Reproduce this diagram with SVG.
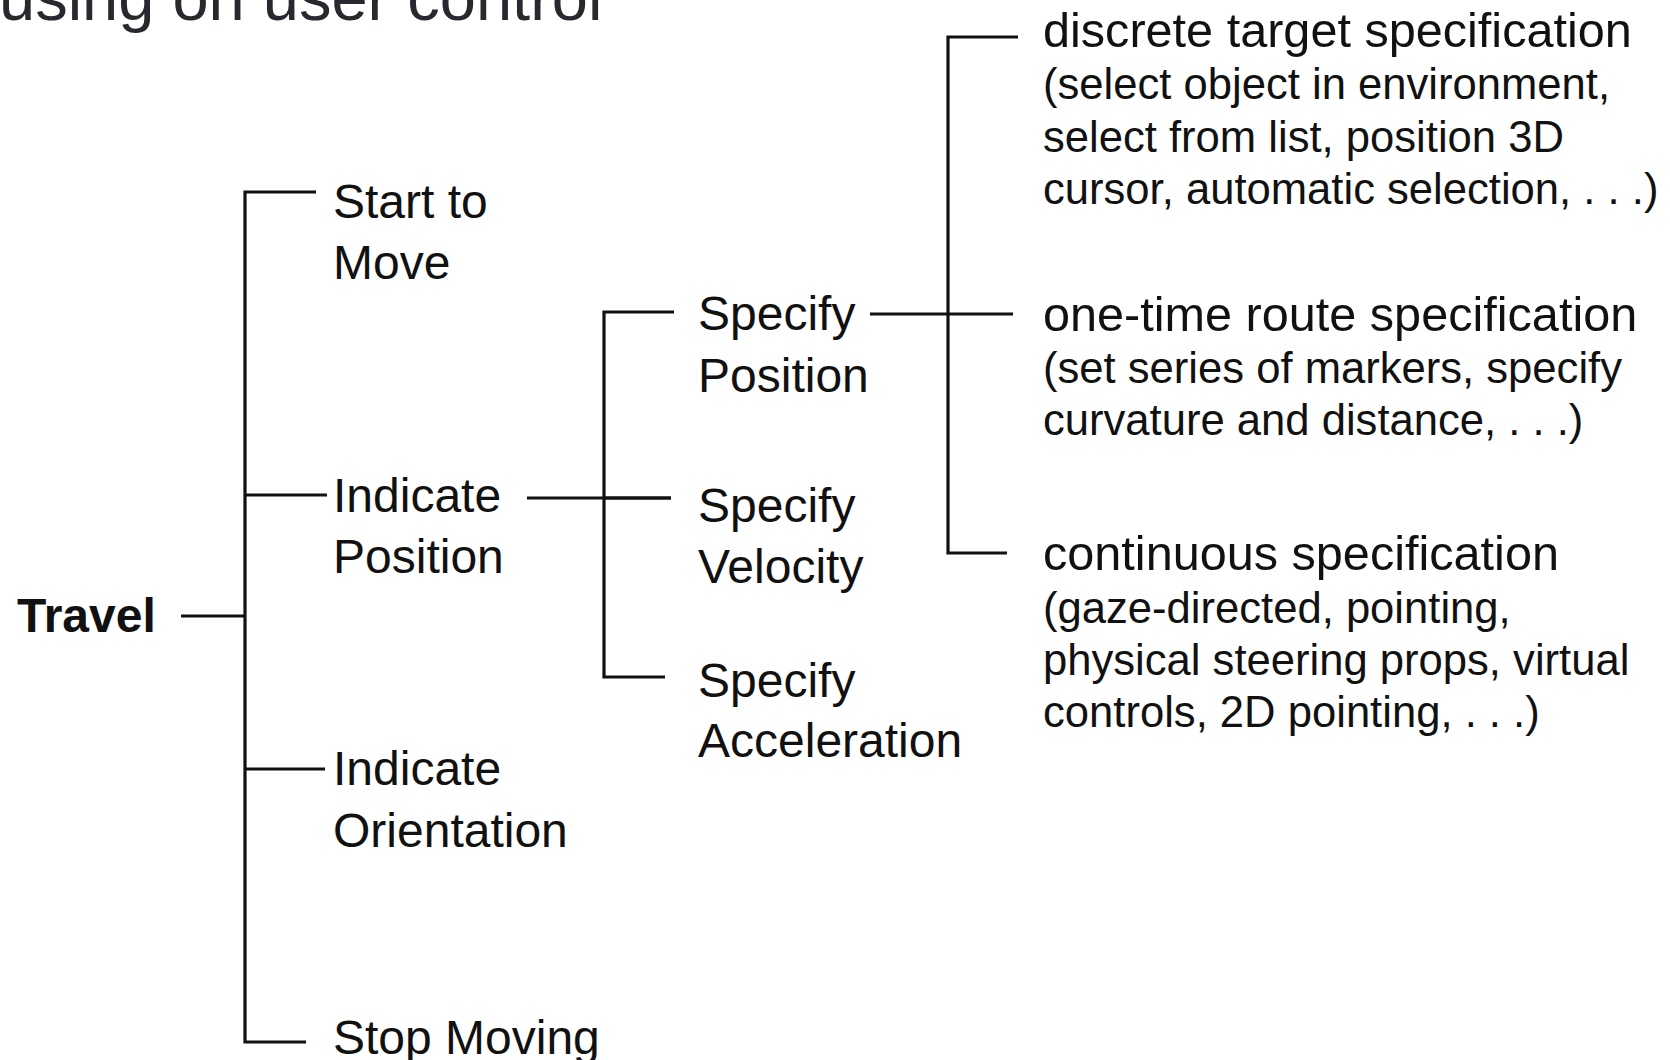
<svg xmlns="http://www.w3.org/2000/svg" width="1670" height="1060" viewBox="0 0 1670 1060">
<style>
  .n { font-family: "Liberation Sans", Arial, Helvetica, sans-serif; font-size: 48px; fill: #111; }
  .h { font-family: "Liberation Sans", Arial, Helvetica, sans-serif; font-size: 48.6px; fill: #111; }
  .b { font-weight: bold; }
  .s { font-family: "Liberation Sans", Arial, Helvetica, sans-serif; font-size: 43.6px; fill: #111; }
  .t { font-family: "Liberation Sans", Arial, Helvetica, sans-serif; font-size: 65px; fill: #28282f; }
  .c { stroke: #111; stroke-width: 3.2; fill: none; stroke-linecap: butt; stroke-linejoin: miter; }
</style>
<rect x="0" y="0" width="1670" height="1060" fill="#ffffff"/>
<text class="t" x="-1" y="20">using on user control</text>

<g id="connectors">
  <path class="c" d="M181 616 H245"/>
  <path class="c" d="M316 192 H245 V1042 H306"/>
  <path class="c" d="M245 495 H327"/>
  <path class="c" d="M245 769 H325"/>
  <path class="c" d="M527 498 H671"/>
  <path class="c" d="M674 312 H604 V677 H665"/>
  <path class="c" d="M604 498 H671"/>
  <path class="c" d="M870 314 H1013"/>
  <path class="c" d="M1018 37 H948 V553 H1007"/>
</g>

<g id="travel"><text class="n b" x="17" y="632">Travel</text></g>
<g id="start-to-move">
  <text class="n" x="333" y="218">Start to</text>
  <text class="n" x="333" y="279">Move</text>
</g>
<g id="indicate-position">
  <text class="n" x="333" y="512">Indicate</text>
  <text class="n" x="333" y="573">Position</text>
</g>
<g id="indicate-orientation">
  <text class="n" x="333" y="785">Indicate</text>
  <text class="n" x="333" y="847">Orientation</text>
</g>
<g id="stop-moving"><text class="n" x="333" y="1054">Stop Moving</text></g>
<g id="specify-position">
  <text class="n" x="698" y="330">Specify</text>
  <text class="n" x="698" y="392">Position</text>
</g>
<g id="specify-velocity">
  <text class="n" x="698" y="522">Specify</text>
  <text class="n" x="698" y="583">Velocity</text>
</g>
<g id="specify-acceleration">
  <text class="n" x="698" y="697">Specify</text>
  <text class="n" x="698" y="757">Acceleration</text>
</g>
<g id="discrete-target">
  <text class="h" x="1043" y="47">discrete target specification</text>
  <text class="s" x="1043" y="99">(select object in environment,</text>
  <text class="s" x="1043" y="152">select from list, position 3D</text>
  <text class="s" x="1043" y="204">cursor, automatic selection, . . .)</text>
</g>
<g id="one-time-route">
  <text class="h" x="1043" y="331">one-time route specification</text>
  <text class="s" x="1043" y="383">(set series of markers, specify</text>
  <text class="s" x="1043" y="435">curvature and distance, . . .)</text>
</g>
<g id="continuous">
  <text class="h" x="1043" y="570">continuous specification</text>
  <text class="s" x="1043" y="623">(gaze-directed, pointing,</text>
  <text class="s" x="1043" y="675">physical steering props, virtual</text>
  <text class="s" x="1043" y="727">controls, 2D pointing, . . .)</text>
</g>
</svg>
